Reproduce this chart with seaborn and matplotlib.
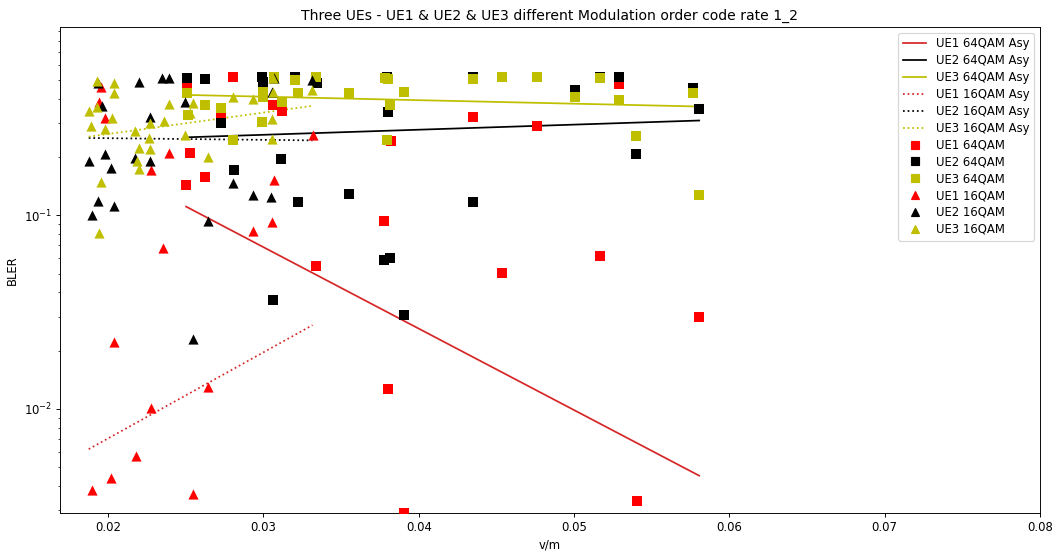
import matplotlib
matplotlib.use("Agg")
import matplotlib.pyplot as plt
import pandas as pd
import seaborn as sns
from matplotlib.lines import Line2D

# ---- measured BLER versus v/m -------------------------------------------
ue1_64_v = [0.02506, 0.02807, 0.02996, 0.03060, 0.03118, 0.02726, 0.02528,
            0.02625, 0.02502, 0.03337, 0.03777, 0.03799, 0.03906, 0.03820,
            0.04352, 0.04760, 0.04539, 0.05164, 0.05292, 0.05404, 0.05806]
ue1_64_bler = [0.462, 0.517, 0.436, 0.372, 0.348, 0.337, 0.211,
               0.158, 0.143, 0.0550, 0.0936, 0.0127, 0.0029, 0.241,
               0.324, 0.288, 0.0501, 0.0620, 0.477, 0.00334, 0.0300]

ue2_64_v = [0.02509, 0.02625, 0.02990, 0.02996, 0.03204, 0.03344, 0.02726,
            0.03795, 0.03802, 0.04352, 0.05007, 0.05164, 0.05292, 0.05769,
            0.05806, 0.05400, 0.03112, 0.02811, 0.03225, 0.03554, 0.04352,
            0.03777, 0.03816, 0.03906, 0.03060]
ue2_64_bler = [0.511, 0.505, 0.521, 0.490, 0.517, 0.481, 0.299,
               0.521, 0.340, 0.521, 0.445, 0.521, 0.517, 0.454,
               0.354, 0.207, 0.195, 0.172, 0.117, 0.129, 0.117,
               0.0586, 0.0603, 0.0304, 0.0365]

ue3_64_v = [0.02509, 0.02513, 0.02625, 0.02726, 0.03000, 0.02996, 0.03118,
            0.02990, 0.02807, 0.03204, 0.03225, 0.03337, 0.03554, 0.03784,
            0.03805, 0.03902, 0.03816, 0.03795, 0.04352, 0.04539, 0.04760,
            0.05007, 0.05164, 0.05292, 0.05769, 0.05400, 0.05806, 0.03065]
ue3_64_bler = [0.428, 0.330, 0.372, 0.358, 0.436, 0.411, 0.387,
               0.305, 0.244, 0.500, 0.431, 0.517, 0.431, 0.511,
               0.505, 0.436, 0.372, 0.244, 0.505, 0.517, 0.517,
               0.411, 0.511, 0.395, 0.428, 0.258, 0.127, 0.521]

ue1_16_v = [0.01955, 0.01944, 0.01981, 0.02395, 0.02275, 0.03316, 0.03071,
            0.03056, 0.02936, 0.02356, 0.02039, 0.02646, 0.02275, 0.02180,
            0.02019, 0.01895, 0.02545]
ue1_16_bler = [0.462, 0.387, 0.318, 0.211, 0.171, 0.261, 0.153,
               0.0925, 0.0827, 0.0679, 0.0223, 0.0130, 0.0101, 0.00572,
               0.00438, 0.00382, 0.00363]

ue2_16_v = [0.01936, 0.01959, 0.02198, 0.02348, 0.02391, 0.02498, 0.02272,
            0.01983, 0.01880, 0.02019, 0.02176, 0.02272, 0.01936, 0.02037,
            0.01897, 0.03069, 0.03056, 0.03312, 0.02807, 0.02936, 0.03050,
            0.02646, 0.02545]
ue2_16_bler = [0.485, 0.368, 0.490, 0.511, 0.511, 0.387, 0.324,
               0.207, 0.190, 0.176, 0.198, 0.190, 0.118, 0.112,
               0.101, 0.511, 0.436, 0.500, 0.147, 0.128, 0.125,
               0.0931, 0.0231]

ue3_16_v = [0.01929, 0.02037, 0.02037, 0.01875, 0.01929, 0.02026, 0.01892,
            0.01983, 0.02391, 0.02359, 0.02272, 0.02172, 0.02266, 0.02198,
            0.02272, 0.02187, 0.02202, 0.01957, 0.01944, 0.02498, 0.02545,
            0.02530, 0.02646, 0.02807, 0.02936, 0.03064, 0.03054, 0.03054,
            0.03312, 0.03064]
ue3_16_bler = [0.497, 0.485, 0.428, 0.348, 0.365, 0.318, 0.290,
               0.280, 0.377, 0.308, 0.299, 0.273, 0.251, 0.223,
               0.220, 0.190, 0.173, 0.148, 0.0811, 0.261, 0.382,
               0.337, 0.200, 0.408, 0.398, 0.436, 0.314, 0.248,
               0.445, 0.511]

# exponential (log-linear) asymptote fits: BLER at the low and high end of each v/m range
ue1_64_fit = [0.111, 0.00452]
ue2_64_fit = [0.253, 0.309]
ue3_64_fit = [0.419, 0.365]
ue1_16_fit = [0.0062, 0.0271]
ue2_16_fit = [0.251, 0.244]
ue3_16_fit = [0.255, 0.368]

ue_labels = ["UE1", "UE2", "UE3"]
ue_colors = ["r", "k", "y"]
fit_colors = ["tab:red", "k", "y"]

# ---- figure ----------------------------------------------------------------
DPI = 84
fig = plt.figure(figsize=(1056 / DPI, 553 / DPI), dpi=DPI)
ax = fig.add_axes([0.0568, 0.0723, 0.928, 0.8789])

v64 = ue1_64_v + ue2_64_v + ue3_64_v
v16 = ue1_16_v + ue2_16_v + ue3_16_v
range64 = [min(v64), max(v64)]
range16 = [min(v16), max(v16)]

handles = []
fits64 = [ue1_64_fit, ue2_64_fit, ue3_64_fit]
fits16 = [ue1_16_fit, ue2_16_fit, ue3_16_fit]
for lab, col, fit in zip(ue_labels, fit_colors, fits64):
    sns.lineplot(x=range64, y=fit, color=col, linewidth=1.5, ax=ax,
                 estimator=None, sort=False)
    handles.append(Line2D([], [], color=col, lw=1.5, label=f"{lab} 64QAM Asy"))
for lab, col, fit in zip(ue_labels, fit_colors, fits16):
    sns.lineplot(x=range16, y=fit, color=col, linewidth=1.5, linestyle=":",
                 ax=ax, estimator=None, sort=False)
    handles.append(Line2D([], [], color=col, lw=1.5, ls=":", label=f"{lab} 16QAM Asy"))

series64 = [(ue1_64_v, ue1_64_bler), (ue2_64_v, ue2_64_bler), (ue3_64_v, ue3_64_bler)]
series16 = [(ue1_16_v, ue1_16_bler), (ue2_16_v, ue2_16_bler), (ue3_16_v, ue3_16_bler)]
for (v, b), lab, col in zip(series64, ue_labels, ue_colors):
    df = pd.DataFrame({"v/m": v, "BLER": b})
    sns.scatterplot(data=df, x="v/m", y="BLER", marker="s", color=col, s=66,
                    linewidth=0, ax=ax, zorder=3)
    handles.append(Line2D([], [], color=col, marker="s", ls="", ms=7, label=f"{lab} 64QAM"))
for (v, b), lab, col in zip(series16, ue_labels, ue_colors):
    df = pd.DataFrame({"v/m": v, "BLER": b})
    sns.scatterplot(data=df, x="v/m", y="BLER", marker="^", color=col, s=76,
                    linewidth=0, ax=ax, zorder=3)
    handles.append(Line2D([], [], color=col, marker="^", ls="", ms=7, label=f"{lab} 16QAM"))

ax.set_yscale("log")
ax.set_xlim(0.0169, 0.08)
ax.set_ylim(0.0029, 0.94)
ax.set_title("Three UEs - UE1 & UE2 & UE3 different Modulation order code rate 1_2")
ax.set_xlabel("v/m")
ax.set_ylabel("BLER")
ax.legend(handles=handles, loc="upper right", labelspacing=0.33)

fig.savefig("out.png", dpi=DPI)
